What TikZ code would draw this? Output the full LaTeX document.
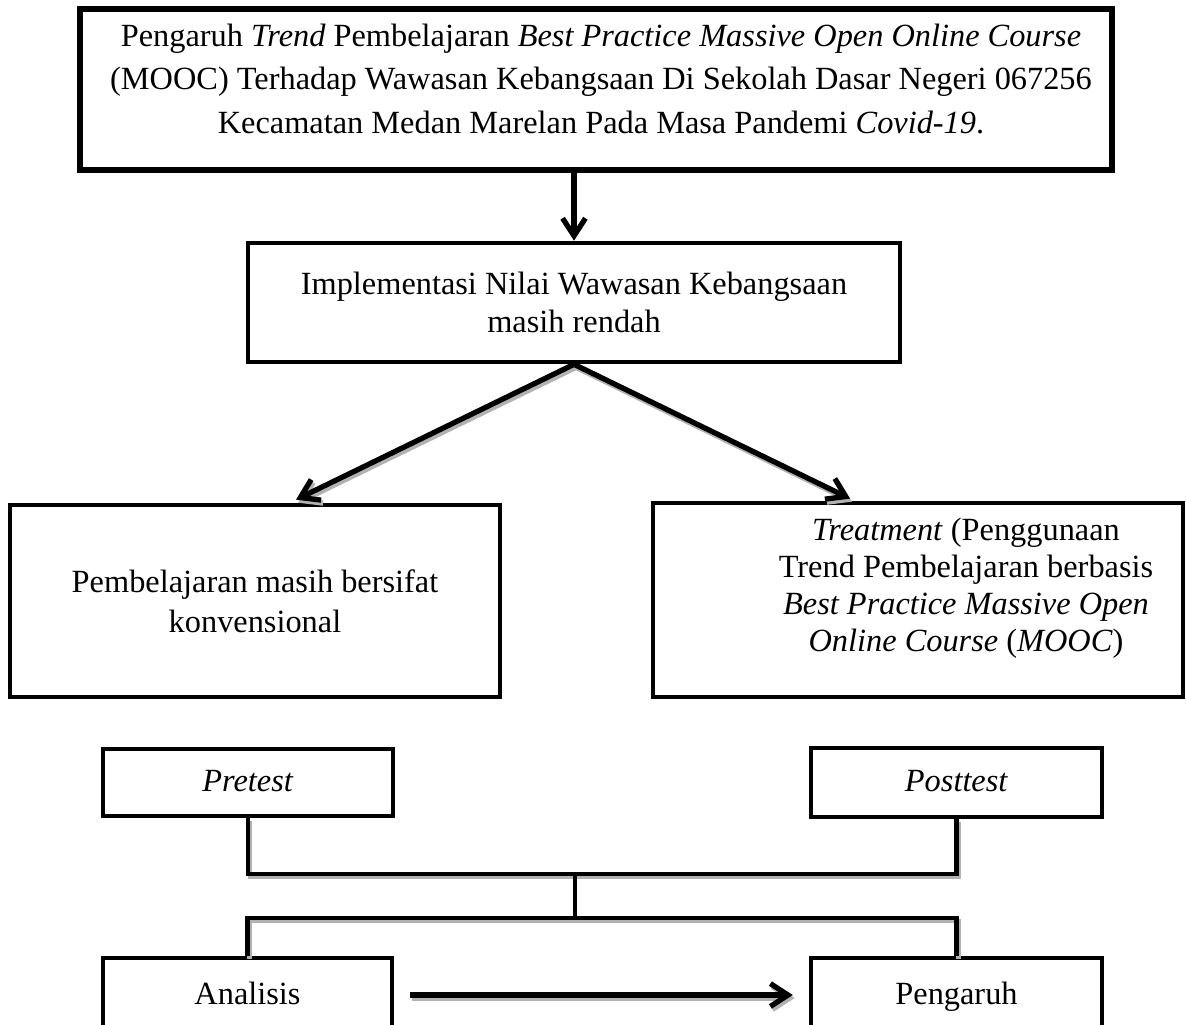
\documentclass[tikz,border=0pt]{standalone}
\usepackage{fontspec}
\setmainfont{Liberation Serif}
\usetikzlibrary{arrows.meta}
\usetikzlibrary{calc}
\tikzset{
  kotak/.style={draw, rectangle, line width=1.3pt, inner sep=0pt},
  teks/.style={align=center, font=\fontsize{9.2}{10.8}\selectfont},
  satu/.style={text height=1.6ex, text depth=0.45ex},
  panah/.style={line width=1.5pt, -{Straight Barb[length=5pt,width=6.5pt]}},
  garis/.style={line width=1.2pt},
  bayang/.style={preaction={draw=gray!60, line width=#1, transform canvas={shift={(2,3)}}}},
  bayang/.default=1.2pt
}

\begin{document}
\begin{tikzpicture}[x=0.01cm,y=-0.01cm]
\useasboundingbox (0,0) rectangle (1186,1024);
\clip (0,0) rectangle (1186,1024);
\node[kotak,line width=1.8pt,minimum width=10.32cm,minimum height=1.61cm] (judul) at (596,89.5) {};
\node[teks,font=\fontsize{9.2}{12.4}\selectfont] (tjudul) at (601,79) {Pengaruh \textit{Trend} Pembelajaran \textit{Best Practice Massive Open Online Course}\\(MOOC) Terhadap Wawasan Kebangsaan Di Sekolah Dasar Negeri 067256\\Kecamatan Medan Marelan Pada Masa Pandemi \textit{Covid-19}.};
\node[kotak,minimum width=6.52cm,minimum height=1.19cm,teks] (nilai) at (574,302.5) {Implementasi Nilai Wawasan Kebangsaan\\masih rendah};
\node[kotak,minimum width=4.9cm,minimum height=1.92cm,teks,font=\fontsize{9.2}{11.4}\selectfont] (konv) at (255,601) {Pembelajaran masih bersifat\\konvensional};
\node[kotak,minimum width=5.3cm,minimum height=1.94cm] (treat) at (918,600) {};
\node[teks,font=\fontsize{9.2}{10.5}\selectfont] (ttreat) at (966,588) {\textit{Treatment} (Penggunaan\\Trend Pembelajaran berbasis\\\textit{Best Practice Massive Open}\\\textit{Online Course} (\textit{MOOC})};
\node[kotak,minimum width=2.9cm,minimum height=0.67cm,teks,satu] (pre) at (248,782.5) {\textit{Pretest}};
\node[kotak,minimum width=2.91cm,minimum height=0.69cm,teks,satu] (post) at (956.5,782.5) {\textit{Posttest}};
\node[kotak,minimum width=2.89cm,minimum height=0.74cm,teks,satu] (ana) at (247.5,995) {Analisis};
\node[kotak,minimum width=2.91cm,minimum height=0.74cm,teks,satu] (peng) at (956.5,995) {Pengaruh};
\coordinate (gabung) at (575,874);
\coordinate (bagi) at (575,918);
\draw[panah] (judul.south -| nilai.north) -- (nilai.north);
\draw[panah,bayang=1.5pt] (nilai.south) -- ($(konv.north)+(41,-3)$);
\draw[panah,bayang=1.5pt] (nilai.south) -- ($(treat.north)+(-68,-2)$);
\draw[garis,bayang] (pre.south) |- (gabung) -| (post.south);
\draw[garis] (gabung) -- (bagi);
\draw[garis,bayang] (ana.north) |- (bagi) -| (peng.north);
\draw[panah,bayang=1.5pt,shorten <=4.3pt,shorten >=4.5pt] (ana.east) -- (peng.west);
\end{tikzpicture}
\end{document}
